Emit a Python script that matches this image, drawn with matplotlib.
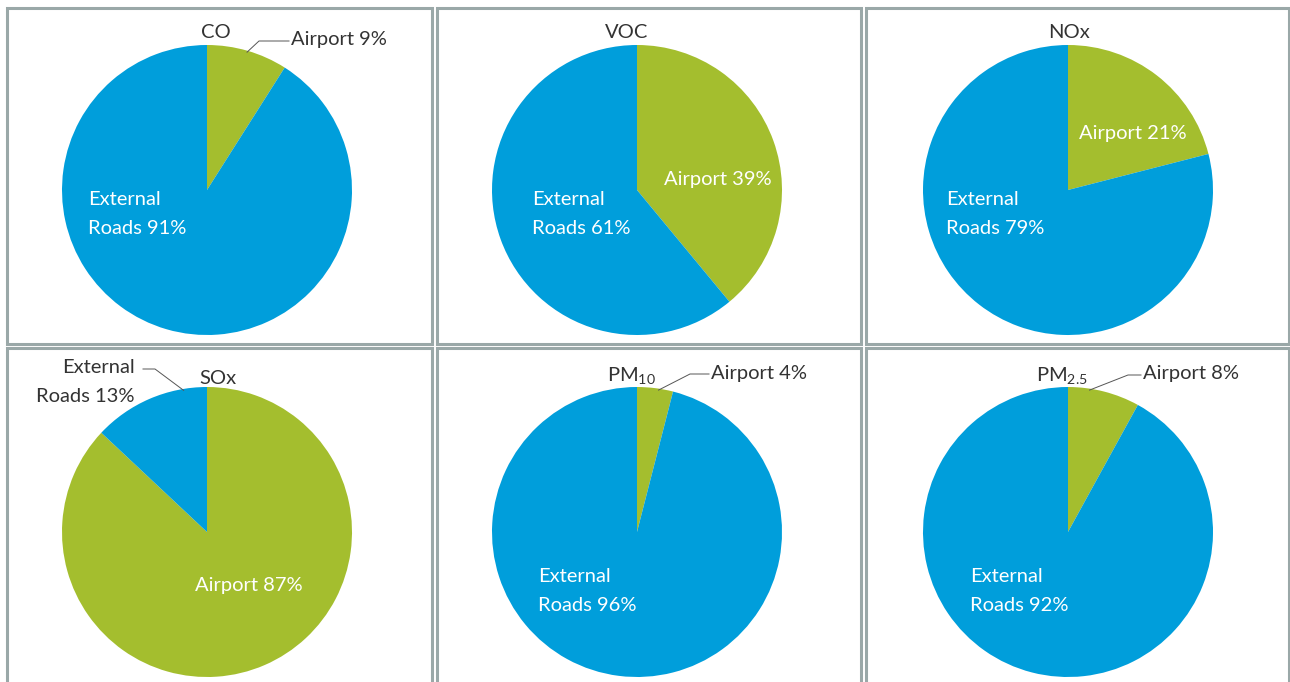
import matplotlib.pyplot as plt
from matplotlib.patches import Rectangle
import numpy as np

plt.rcParams['font.family'] = ['Lato', 'DejaVu Sans']
plt.rcParams['mathtext.default'] = 'regular'

BLUE = '#009edb'
GREEN = '#a4be2e'
EDGE = '#9aa8a8'
DARK = '#333333'
FS = 14.5

pollutants = ['CO', 'VOC', 'NOx', 'SOx', 'PM$_{10}$', 'PM$_{2.5}$']
airport = [9, 39, 21, 87, 4, 8]
roads = [91, 61, 79, 13, 96, 92]

W, H = 1290, 682
fig = plt.figure(figsize=(W / 100, H / 100), dpi=100)
ax = fig.add_axes([0, 0, 1, 1])

# panel frames (pixel units, y measured from the top)
cols = [(7, 432), (437, 861), (866, 1289)]
rows = [(8, 344), (348, 700)]
for (y0, y1) in rows:
    for (x0, x1) in cols:
        ax.add_patch(Rectangle((x0, H - y1), x1 - x0, y1 - y0, fill=False,
                               edgecolor=EDGE, lw=2.2, zorder=5))

centers = [(207, 190), (637, 190), (1068, 190),
           (207, 532), (637, 532), (1068, 532)]
radius = 145

title_pos = [(216, 33), (627, 33), (1069, 33), (218, 378), (631, 375), (1062, 375)]

# inside labels: (which slice, x, y)
inner = [
    [('roads', 88, 214)],
    [('roads', 532, 214), ('airport', 664, 179)],
    [('roads', 946, 214), ('airport', 1079, 134)],
    [('airport', 195, 586)],
    [('roads', 538, 591)],
    [('roads', 970, 591)],
]

# outside labels with leader: (slice, text x, text y, elbow x, anchor fraction of wedge)
outer = {
    0: ('airport', 291, 40, 259, 0.5),
    3: ('roads', 135, 382, 155, 0.2),
    4: ('airport', 711, 373, 690, 0.6),
    5: ('airport', 1143, 374, 1128, 0.3),
}

for i in range(6):
    cx, cy = centers[i]
    wedges, _ = ax.pie([airport[i], roads[i]], colors=[GREEN, BLUE],
                       startangle=90, counterclock=False,
                       center=(cx, H - cy), radius=radius, frame=True,
                       wedgeprops=dict(linewidth=0))
    vals = {'airport': airport[i], 'roads': roads[i]}
    tx, ty = title_pos[i]
    ax.text(tx, H - ty, pollutants[i], ha='center', va='center',
            fontsize=FS, color=DARK)
    for kind, x, y in inner[i]:
        if kind == 'roads':
            s = f'External\nRoads {vals[kind]}%'
        else:
            s = f'Airport {vals[kind]}%'
        ax.text(x, H - y, s, ha='left', va='center', fontsize=FS, color='white',
                linespacing=1.8)
    if i in outer:
        kind, x, y, ex, frac = outer[i]
        w = wedges[0] if kind == 'airport' else wedges[1]
        if kind == 'airport':
            ang = w.theta2 - frac * (w.theta2 - w.theta1)
        else:
            ang = w.theta1 + frac * (w.theta2 - w.theta1)
        a = np.deg2rad(ang)
        px = cx + radius * 0.99 * np.cos(a)
        py = (H - cy) + radius * 0.99 * np.sin(a)
        if kind == 'roads':
            s = f'External\nRoads {vals[kind]}%'
            ax.text(x, H - y, s, ha='right', va='center', fontsize=FS,
                    color=DARK, linespacing=1.8)
            ax.plot([px, ex, x + 8], [py, H - 369, H - 369], color='#555555', lw=0.7)
        else:
            s = f'Airport {vals[kind]}%'
            ax.text(x, H - y, s, ha='left', va='center', fontsize=FS, color=DARK)
            ax.plot([px, ex, x - 2], [py, H - y - 1, H - y - 1], color='#555555', lw=0.7)

ax.set_xlim(0, W)
ax.set_ylim(0, H)
ax.set_aspect('equal')
ax.axis('off')

fig.savefig('out.png', dpi=100)
